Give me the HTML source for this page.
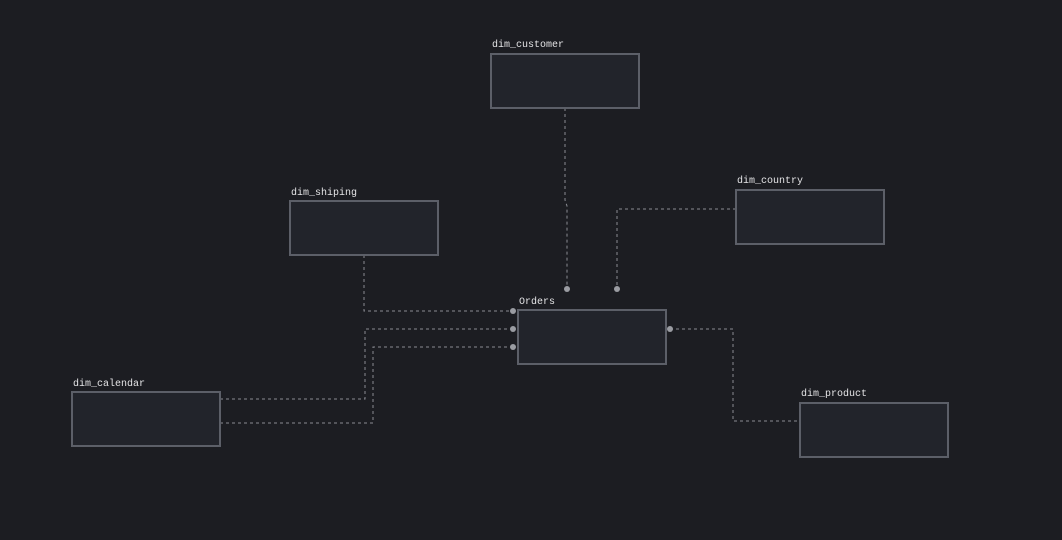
<!DOCTYPE html>
<html><head><style>
html,body{margin:0;padding:0;background:#1c1d22;width:1062px;height:540px;overflow:hidden}
</style></head><body>
<svg width="1062" height="540" xmlns="http://www.w3.org/2000/svg" style="display:block">
<rect width="1062" height="540" fill="#1c1d22"/>
<g fill="none" stroke="#8a8c93" stroke-width="1" stroke-dasharray="3,3">
<polyline points="565,108 565,200 567,206 567,289"/>
<polyline points="736,209 617,209 617,289"/>
<polyline points="364,255 364,311 513,311"/>
<polyline points="220,399 365,399 365,329 513,329"/>
<polyline points="220,423 373,423 373,347 513,347"/>
<polyline points="670,329 733,329 733,421 800,421"/>
</g>
<g fill="#22242b" stroke="#5c5f68" stroke-width="2">
<rect x="491" y="54" width="148" height="54"/>
<rect x="290" y="201" width="148" height="54"/>
<rect x="736" y="190" width="148" height="54"/>
<rect x="518" y="310" width="148" height="54"/>
<rect x="72" y="392" width="148" height="54"/>
<rect x="800" y="403" width="148" height="54"/>
</g>
<g fill="#9a9ca2">
<circle cx="567" cy="289" r="3"/><circle cx="617" cy="289" r="3"/>
<circle cx="513" cy="311" r="3"/><circle cx="513" cy="329" r="3"/><circle cx="513" cy="347" r="3"/>
<circle cx="670" cy="329" r="3"/>
</g>
<g fill="#e4e4e6" font-family="Liberation Mono, monospace" font-size="10">
<text x="492" y="47">dim_customer</text>
<text x="291" y="195">dim_shiping</text>
<text x="737" y="183">dim_country</text>
<text x="519" y="304">Orders</text>
<text x="73" y="386">dim_calendar</text>
<text x="801" y="396">dim_product</text>
</g>
</svg>
</body></html>
